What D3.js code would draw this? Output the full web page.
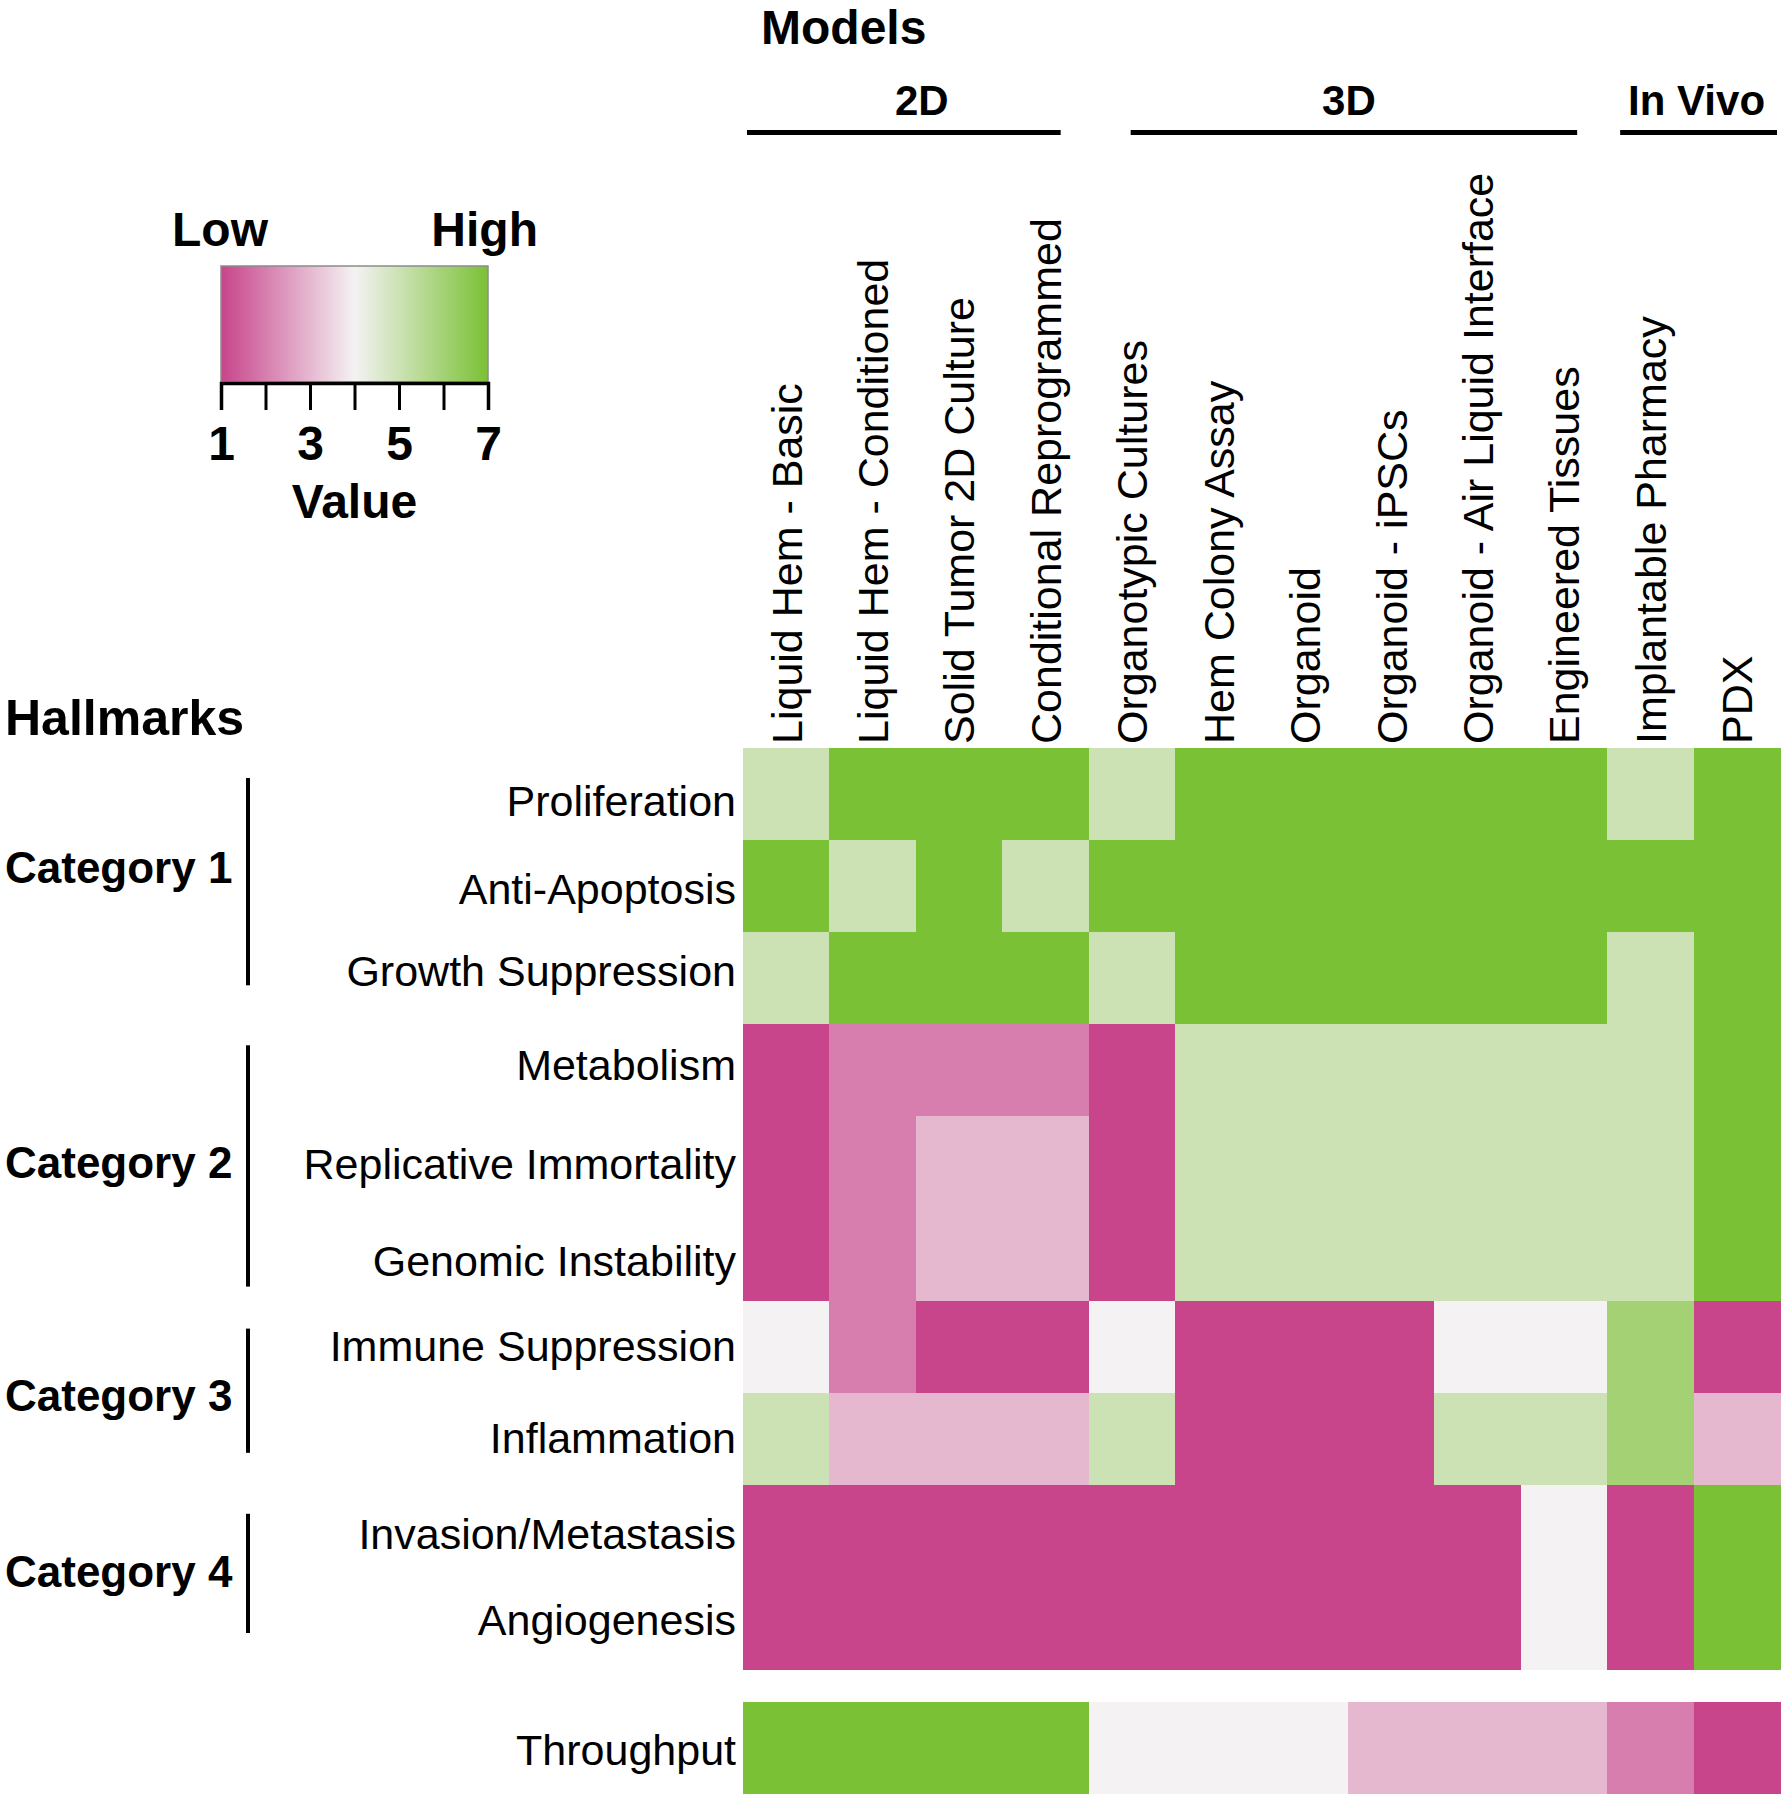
<!DOCTYPE html>
<html>
<head>
<meta charset="utf-8">
<script src="https://cdn.jsdelivr.net/npm/d3@7"></script>
<style>
  body { margin: 0; background: #fff; }
  svg { display: block; font-family: "Liberation Sans", Arial, Helvetica, sans-serif; }
</style>
</head>
<body>
<script>
// ---------- data ----------
const models = [
  "Liquid Hem - Basic", "Liquid Hem - Conditioned", "Solid Tumor 2D Culture",
  "Conditional Reprogrammed", "Organotypic Cultures", "Hem Colony Assay",
  "Organoid", "Organoid - iPSCs", "Organoid - Air Liquid Interface",
  "Engineered Tissues", "Implantable Pharmacy", "PDX"
];
const groupNames = ["2D", "3D", "In Vivo"];
const groupFirst = [0, 4, 10];
const groupLast = [3, 9, 11];

const hallmarks = [
  "Proliferation", "Anti-Apoptosis", "Growth Suppression",
  "Metabolism", "Replicative Immortality", "Genomic Instability",
  "Immune Suppression", "Inflammation",
  "Invasion/Metastasis", "Angiogenesis"
];
const categories = ["Category 1", "Category 2", "Category 3", "Category 4"];
const categoryFirst = [0, 3, 6, 8];
const categoryLast = [2, 5, 7, 9];

const values = [
  [5, 7, 7, 7, 5, 7, 7, 7, 7, 7, 5, 7],
  [7, 5, 7, 5, 7, 7, 7, 7, 7, 7, 7, 7],
  [5, 7, 7, 7, 5, 7, 7, 7, 7, 7, 5, 7],
  [1, 2, 2, 2, 1, 5, 5, 5, 5, 5, 5, 7],
  [1, 2, 3, 3, 1, 5, 5, 5, 5, 5, 5, 7],
  [1, 2, 3, 3, 1, 5, 5, 5, 5, 5, 5, 7],
  [4, 2, 1, 1, 4, 1, 1, 1, 4, 4, 6, 1],
  [5, 3, 3, 3, 5, 1, 1, 1, 5, 5, 6, 3],
  [1, 1, 1, 1, 1, 1, 1, 1, 1, 4, 1, 7],
  [1, 1, 1, 1, 1, 1, 1, 1, 1, 4, 1, 7]
];
const extraRow = ["Throughput"];
const throughputValues = [7, 7, 7, 7, 4, 4, 4, 3, 3, 3, 2, 1];

const legendTicks = [1, 2, 3, 4, 5, 6, 7];
const legendTickLabels = ["1", "", "3", "", "5", "", "7"];

// ---------- layout ----------
const W = 1786, H = 1800;
const svg = d3.select("body").append("svg").attr("width", W).attr("height", H);

const x = d3.scaleBand().domain(models).range([743, 1780]);
const y = d3.scaleBand().domain(hallmarks).range([748, 1669]);
const yT = d3.scaleBand().domain(extraRow).range([1702, 1794]);
const color = d3.scaleLinear().domain([1, 4, 7]).range(["#C8448B", "#F4F2F3", "#7BC135"]);

const labelFont = 43;
const capOff = labelFont * 0.716 / 2;
const rowLabelNudge = [7, 2, -8, -6, 1, 6, -1, -1, 3, -3];

// ---------- heatmap cells ----------
const cells = [];
values.forEach((row, i) => row.forEach((v, j) => cells.push({ r: hallmarks[i], c: models[j], v })));
svg.append("g").attr("shape-rendering", "crispEdges").selectAll("rect").data(cells).join("rect")
  .attr("x", d => x(d.c)).attr("y", d => y(d.r))
  .attr("width", x.bandwidth() + 0.5).attr("height", y.bandwidth() + 0.5)
  .attr("fill", d => color(d.v));

svg.append("g").attr("shape-rendering", "crispEdges").selectAll("rect").data(throughputValues).join("rect")
  .attr("x", (d, j) => x(models[j])).attr("y", yT("Throughput"))
  .attr("width", x.bandwidth() + 0.5).attr("height", yT.bandwidth())
  .attr("fill", d => color(d));

// ---------- row labels ----------
svg.append("g").selectAll("text").data(hallmarks).join("text")
  .attr("x", 736).attr("y", (d, i) => y(d) + y.bandwidth() / 2 + capOff + rowLabelNudge[i])
  .attr("text-anchor", "end").attr("font-size", labelFont).attr("fill", "#000")
  .text(d => d);
svg.append("text")
  .attr("x", 736).attr("y", yT("Throughput") + yT.bandwidth() / 2 + capOff + 2)
  .attr("text-anchor", "end").attr("font-size", labelFont).text("Throughput");

// ---------- column labels ----------
svg.append("g").selectAll("text").data(models).join("text")
  .attr("transform", d => `translate(${x(d) + x.bandwidth() / 2 + capOff},744) rotate(-90)`)
  .attr("text-anchor", "start").attr("font-size", labelFont).attr("fill", "#000")
  .text(d => d);

// ---------- titles ----------
svg.append("text").attr("x", 761).attr("y", 44).attr("font-size", 48)
  .attr("font-weight", "bold").text("Models");
svg.append("text").attr("x", 5).attr("y", 735).attr("font-size", 50)
  .attr("font-weight", "bold").text("Hallmarks");

// ---------- model groups ----------
const groupLineInset = [[4, 28], [42, 30], [13, 3]];
const groupLabelShift = [6, 1, 3];
groupNames.forEach((g, i) => {
  const x0 = x(models[groupFirst[i]]);
  const x1 = x(models[groupLast[i]]) + x.bandwidth();
  svg.append("text").attr("x", (x0 + x1) / 2 + groupLabelShift[i]).attr("y", 115)
    .attr("text-anchor", "middle").attr("font-size", 42).attr("font-weight", "bold").text(g);
  svg.append("line")
    .attr("x1", x0 + groupLineInset[i][0]).attr("x2", x1 - groupLineInset[i][1])
    .attr("y1", 132.5).attr("y2", 132.5)
    .attr("stroke", "#000").attr("stroke-width", 5);
});

// ---------- hallmark categories ----------
const catLineInset = [[30, 39], [21, 14], [28, 32], [29, 36]];
const catLabelShift = [-14, -3, 5, -2];
categories.forEach((c, i) => {
  const y0 = y(hallmarks[categoryFirst[i]]) + catLineInset[i][0];
  const y1 = y(hallmarks[categoryLast[i]]) + y.bandwidth() - catLineInset[i][1];
  svg.append("line").attr("x1", 248).attr("x2", 248).attr("y1", y0).attr("y2", y1)
    .attr("stroke", "#000").attr("stroke-width", 4);
  svg.append("text").attr("x", 5).attr("y", (y0 + y1) / 2 + catLabelShift[i] + 15.5)
    .attr("font-size", 44).attr("font-weight", "bold").text(c);
});

// ---------- legend ----------
const lx = d3.scaleLinear().domain([1, 7]).range([221, 488]);
const defs = svg.append("defs");
const grad = defs.append("linearGradient").attr("id", "lg")
  .attr("x1", "0%").attr("x2", "100%").attr("y1", "0%").attr("y2", "0%");
d3.range(0, 1.0001, 1 / 12).forEach(t => {
  grad.append("stop").attr("offset", (t * 100) + "%").attr("stop-color", color(1 + 6 * t));
});
svg.append("rect").attr("x", lx(1)).attr("y", 266)
  .attr("width", lx(7) - lx(1)).attr("height", 116)
  .attr("fill", "url(#lg)").attr("stroke", "#8c8c8c").attr("stroke-width", 1.5);

const axis = d3.axisBottom(lx).tickValues(legendTicks)
  .tickFormat((d, i) => legendTickLabels[i]).tickSize(27).tickPadding(16);
const ag = svg.append("g").attr("transform", "translate(0,383)").call(axis);
ag.select(".domain").attr("stroke", "#000").attr("stroke-width", 3.5);
ag.selectAll(".tick line").attr("stroke", "#000").attr("stroke-width", 3);
ag.selectAll(".tick text").attr("font-size", 48).attr("font-weight", "bold")
  .attr("fill", "#000").attr("font-family", "Liberation Sans, Arial, sans-serif");

svg.append("text").attr("x", (lx(1) + lx(7)) / 2).attr("y", 518)
  .attr("text-anchor", "middle").attr("font-size", 48).attr("font-weight", "bold").text("Value");
svg.append("text").attr("x", 172).attr("y", 246)
  .attr("font-size", 48).attr("font-weight", "bold").text("Low");
svg.append("text").attr("x", 538).attr("y", 246).attr("text-anchor", "end")
  .attr("font-size", 48).attr("font-weight", "bold").text("High");
</script>
</body>
</html>
